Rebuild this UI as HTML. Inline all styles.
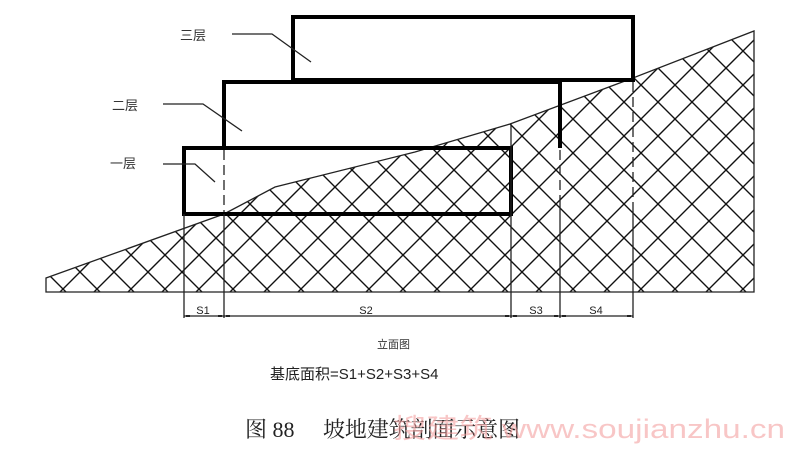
<!DOCTYPE html>
<html><head><meta charset="utf-8"><style>
html,body{margin:0;padding:0;background:#fff;}
svg{display:block;}
</style></head><body>
<svg width="800" height="453" viewBox="0 0 800 453" xmlns="http://www.w3.org/2000/svg">
<defs>
<pattern id="h" patternUnits="userSpaceOnUse" width="34" height="34" x="12" y="0">
<path d="M-1,-1 L35,35 M-1,35 L35,-1" stroke="#111" stroke-width="1.4" fill="none"/>
</pattern>
</defs>
<rect width="800" height="453" fill="#fff"/>
<!-- terrain -->
<polygon points="46,278 224,214 275,187 415,152 510,124 633,78 754,31 754,292 46,292" fill="url(#h)" stroke="#222" stroke-width="1.3"/>
<!-- dashed verticals -->
<g stroke="#222" stroke-width="1.3" stroke-dasharray="10,5">
<line x1="224" y1="150" x2="224" y2="212"/>
<line x1="560" y1="150" x2="560" y2="205"/>
<line x1="633" y1="82" x2="633" y2="205"/>
</g>
<!-- building -->
<g fill="none" stroke="#000" stroke-width="4">
<rect x="293" y="17" width="340" height="63"/>
<path d="M224,148 L224,82 L560,82 L560,148"/>
<rect x="184" y="148" width="327" height="66"/>
</g>
<!-- dimension verticals -->
<g stroke="#222" stroke-width="1.3">
<line x1="184" y1="214" x2="184" y2="318"/>
<line x1="224" y1="214" x2="224" y2="318"/>
<line x1="511" y1="124" x2="511" y2="318"/>
<line x1="560" y1="205" x2="560" y2="318"/>
<line x1="633" y1="205" x2="633" y2="318"/>
<line x1="184" y1="316" x2="633" y2="316"/>
</g>
<g stroke="#222" stroke-width="2">
<line x1="186" y1="316" x2="190" y2="316"/><line x1="218" y1="316" x2="222" y2="316"/>
<line x1="226" y1="316" x2="230" y2="316"/><line x1="505" y1="316" x2="509" y2="316"/>
<line x1="513" y1="316" x2="517" y2="316"/><line x1="554" y1="316" x2="558" y2="316"/>
<line x1="562" y1="316" x2="566" y2="316"/><line x1="627" y1="316" x2="631" y2="316"/>
</g>
<g font-family="Liberation Sans, sans-serif" font-size="11" fill="#222" text-anchor="middle">
<text x="203" y="314">S1</text><text x="366" y="314">S2</text>
<text x="536" y="314">S3</text><text x="596" y="314">S4</text>
</g>
<!-- leaders -->
<g stroke="#222" stroke-width="1.3" fill="none">
<path d="M232,34 L272,34 L311,62"/>
<path d="M163,104 L203,104 L242,131"/>
<path d="M163,164 L195,164 L215,182"/>
</g>
<g font-family="Liberation Sans, 'Noto Sans CJK SC', sans-serif" font-size="13" fill="#333">
<text x="180" y="40">三层</text>
<text x="112" y="110">二层</text>
<text x="110" y="168">一层</text>
<text x="377" y="348" font-size="11">立面图</text>
<text x="270" y="379" font-size="15" fill="#222">基底面积=S1+S2+S3+S4</text>
</g>
<text x="245" y="437" font-family="Liberation Serif, 'Noto Serif CJK SC', serif" font-size="22" fill="#222">图 88</text>
<text x="323" y="437" font-family="Liberation Serif, 'Noto Serif CJK SC', serif" font-size="22" fill="#222" textLength="197" lengthAdjust="spacing">坡地建筑剖面示意图</text>
<text x="393" y="438" font-family="Liberation Sans, 'Noto Sans CJK SC', sans-serif" font-size="27" fill="#f4a0a0" fill-opacity="0.6" textLength="392" lengthAdjust="spacingAndGlyphs">搜建筑 www.soujianzhu.cn</text>
</svg>
</body></html>
